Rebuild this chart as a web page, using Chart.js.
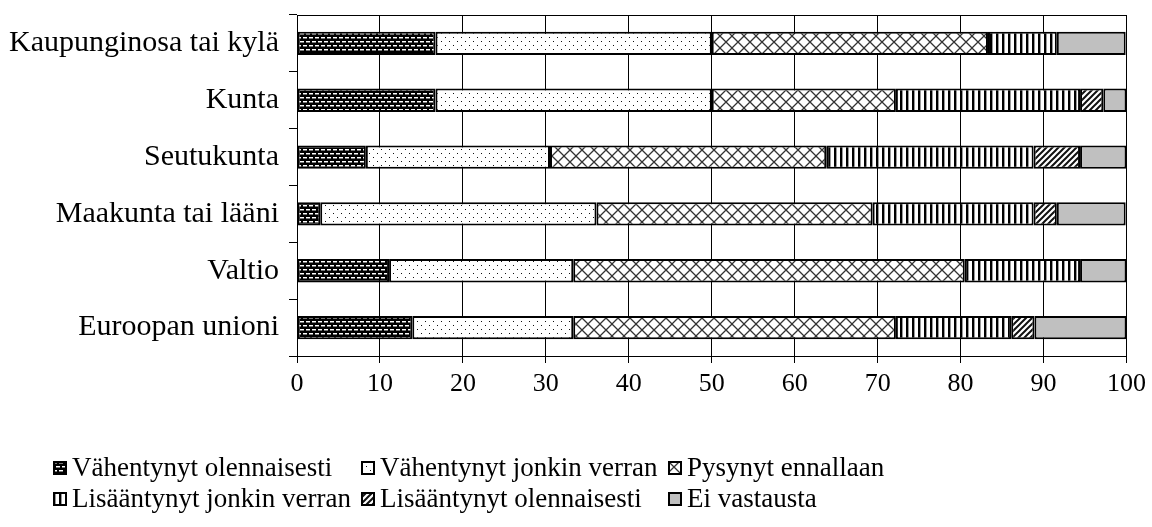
<!DOCTYPE html>
<html>
<head>
<meta charset="utf-8">
<script src="https://cdn.jsdelivr.net/npm/chart.js@4"></script>
<style>
    body { margin: 0; background: #fff; }
    #wrap { position: relative; width: 1152px; height: 527px; }
    #legend {
        position: absolute; left: 53px; top: 452px;
        display: grid; grid-template-columns: 308px 307px auto;
        font-family: 'Liberation Serif', 'Times New Roman', serif;
        font-size: 27px; color: #000;
    }
    .item { display: flex; align-items: center; height: 31px; white-space: nowrap; }
    .item canvas { width: 14px; height: 14px; margin-right: 5px; }
</style>
</head>
<body>
<div id="wrap">
    <canvas id="chart"></canvas>
    <div id="legend"></div>
</div>
<script>
// Data
const categories = ['Kaupunginosa tai kylä', 'Kunta', 'Seutukunta', 'Maakunta tai lääni', 'Valtio', 'Euroopan unioni'];
const seriesNames = ['Vähentynyt olennaisesti', 'Vähentynyt jonkin verran', 'Pysynyt ennallaan',
                     'Lisääntynyt jonkin verran', 'Lisääntynyt olennaisesti', 'Ei vastausta'];
const vahentynytOlennaisesti = [16.7, 16.7, 8.3, 2.8, 11.1, 13.9];
const vahentynytJonkin = [33.3, 33.3, 22.2, 33.3, 22.2, 19.4];
const pysynytEnnallaan = [33.3, 22.2, 33.3, 33.3, 47.2, 38.9];
const lisaantynytJonkin = [8.3, 22.2, 25.0, 19.4, 13.9, 13.9];
const lisaantynytOlennaisesti = [0, 2.8, 5.6, 2.8, 0, 2.8];
const eiVastausta = [8.3, 2.8, 5.6, 8.3, 5.6, 11.1];
const xTickValues = [0, 10, 20, 30, 40, 50, 60, 70, 80, 90, 100];

const serif = "'Liberation Serif', 'Times New Roman', serif";

// Pattern helpers
function makePattern(w, h, draw) {
    const c = document.createElement('canvas');
    c.width = w; c.height = h;
    const g = c.getContext('2d');
    draw(g, w, h);
    return g.createPattern(c, 'repeat');
}

const patDark = makePattern(6, 8, (g, w, h) => {
    g.fillStyle = '#000'; g.fillRect(0, 0, w, h);
    g.fillStyle = '#fff';
    g.fillRect(0, 1, 4, 1);
    g.fillRect(3, 5, 3, 1); g.fillRect(0, 5, 1, 1);
    g.fillStyle = '#777';
    g.fillRect(0, 2, 4, 1);
    g.fillRect(3, 6, 3, 1); g.fillRect(0, 6, 1, 1);
});
const patDots = makePattern(8, 8, (g, w, h) => {
    g.fillStyle = '#fff'; g.fillRect(0, 0, w, h);
    g.fillStyle = '#111';
    g.fillRect(1, 1, 1, 1);
    g.fillRect(5, 5, 1, 1);
});
const patCross = makePattern(12, 12, (g, w, h) => {
    g.fillStyle = '#fff'; g.fillRect(0, 0, w, h);
    g.strokeStyle = '#333'; g.lineWidth = 1.3;
    g.beginPath();
    g.moveTo(-1, -1); g.lineTo(w + 1, h + 1);
    g.moveTo(w + 1, -1); g.lineTo(-1, h + 1);
    g.stroke();
});
const patVert = makePattern(6, 6, (g, w, h) => {
    g.fillStyle = '#fff'; g.fillRect(0, 0, w, h);
    g.fillStyle = '#000'; g.fillRect(0, 0, 2, h);
    g.fillStyle = '#999'; g.fillRect(2, 0, 1, h);
});
const patDiag = makePattern(6, 6, (g, w, h) => {
    g.fillStyle = '#fff'; g.fillRect(0, 0, w, h);
    g.strokeStyle = '#111'; g.lineWidth = 2;
    g.beginPath();
    g.moveTo(-1, h + 1); g.lineTo(w + 1, -1);
    g.moveTo(-4, 4); g.lineTo(4, -4);
    g.moveTo(2, 10); g.lineTo(10, 2);
    g.stroke();
});
const fills = [patDark, patDots, patCross, patVert, patDiag, '#c0c0c0'];
const seriesValues = [vahentynytOlennaisesti, vahentynytJonkin, pysynytEnnallaan,
                      lisaantynytJonkin, lisaantynytOlennaisesti, eiVastausta];

// Top frame line of the plot area
const plotFrame = {
    id: 'plotFrame',
    afterDatasetsDraw(chart) {
        const { ctx, chartArea } = chart;
        ctx.save();
        ctx.strokeStyle = '#000';
        ctx.lineWidth = 1;
        ctx.beginPath();
        ctx.moveTo(chartArea.left, Math.round(chartArea.top) + 0.5);
        ctx.lineTo(chartArea.right, Math.round(chartArea.top) + 0.5);
        ctx.stroke();
        ctx.restore();
    }
};

new Chart(document.getElementById('chart'), {
    type: 'bar',
    data: {
        labels: categories,
        datasets: seriesNames.map((name, i) => ({
            label: name,
            data: seriesValues[i],
            backgroundColor: fills[i],
            borderColor: '#000',
            borderWidth: 2,
            borderSkipped: false,
            barPercentage: 0.41,
            categoryPercentage: 1
        }))
    },
    options: {
        indexAxis: 'y',
        responsive: true,
        maintainAspectRatio: false,
        animation: false,
        layout: { padding: { top: 15, right: 25, bottom: 0, left: 0 } },
        plugins: {
            legend: { display: false },
            tooltip: { enabled: false }
        },
        scales: {
            x: {
                stacked: true,
                min: 0,
                max: 100,
                afterBuildTicks: s => { s.ticks = xTickValues.map(v => ({ value: v })); },
                afterFit: s => { s.height = 171; },
                grid: { color: '#000', lineWidth: 1, tickLength: 7 },
                border: { color: '#000', width: 1 },
                ticks: { color: '#000', padding: 6, maxRotation: 0, font: { family: serif, size: 26 } }
            },
            y: {
                stacked: true,
                afterFit: s => { s.width = 297; s.paddingTop = 0; s.paddingBottom = 0; },
                grid: { offset: true, drawOnChartArea: false, color: '#000', tickLength: 8 },
                border: { color: '#000', width: 1 },
                ticks: { color: '#000', padding: 10, font: { family: serif, size: 30 } }
            }
        }
    },
    plugins: [plotFrame]
});

// Legend laid out in three aligned columns
const legend = document.getElementById('legend');
seriesNames.forEach((name, i) => {
    const item = document.createElement('div');
    item.className = 'item';
    const sw = document.createElement('canvas');
    sw.width = 14; sw.height = 14;
    const g = sw.getContext('2d');
    g.fillStyle = fills[i];
    g.fillRect(0, 0, 14, 14);
    g.strokeStyle = '#000';
    g.lineWidth = 2;
    g.strokeRect(1, 1, 12, 12);
    const txt = document.createElement('span');
    txt.textContent = name;
    item.appendChild(sw);
    item.appendChild(txt);
    legend.appendChild(item);
});
</script>
</body>
</html>
